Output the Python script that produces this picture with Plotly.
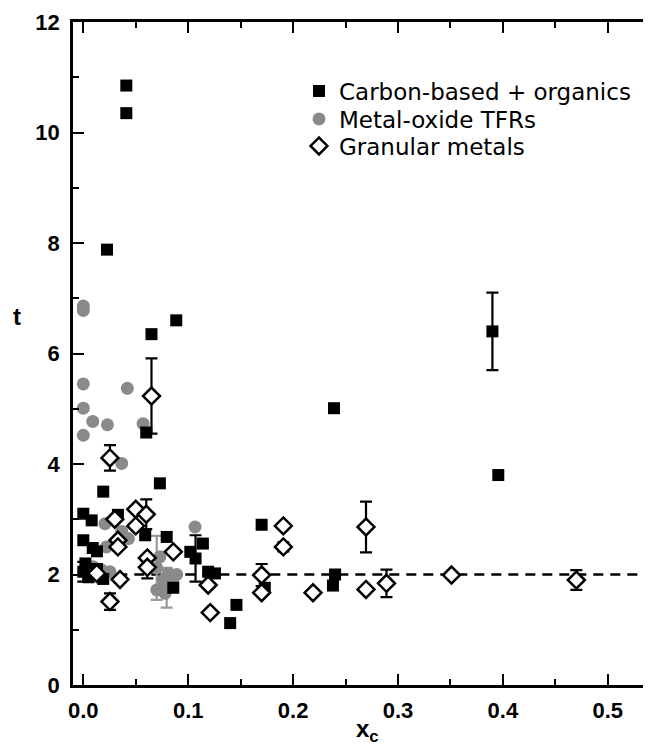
import plotly.graph_objects as go

# ---------------- data ----------------
carbon_x = [0.041, 0.041, 0.0226, 0.0886, 0.065, 0.060, 0.073, 0.019, 0.000, 0.008,
            0.033, 0.000, 0.009, 0.013, 0.002, 0.000, 0.013, 0.005, 0.019, 0.059,
            0.0795, 0.102, 0.114, 0.107, 0.119, 0.1255, 0.0858, 0.146, 0.140, 0.170,
            0.173, 0.240, 0.238, 0.239, 0.390, 0.3956]
carbon_y = [10.85, 10.35, 7.88, 6.60, 6.35, 4.57, 3.65, 3.50, 3.10, 2.98,
            3.08, 2.62, 2.48, 2.42, 2.20, 2.05, 2.10, 1.95, 1.92, 2.71,
            2.68, 2.41, 2.56, 2.29, 2.05, 2.02, 1.76, 1.45, 1.12, 2.90,
            1.76, 2.00, 1.80, 5.01, 6.40, 3.80]
carbon_err = [0, 0, 0, 0, 0, 0, 0, 0, 0, 0,
              0, 0, 0, 0, 0, 0.18, 0, 0, 0, 0,
              0, 0, 0, 0.42, 0, 0, 0, 0, 0, 0,
              0, 0, 0, 0, 0.70, 0]

oxide_x = [0.000, 0.000, 0.000, 0.042, 0.000, 0.009, 0.023, 0.057, 0.000, 0.0366,
           0.0207, 0.0366, 0.043, 0.022, 0.0175, 0.0095, 0.0255, 0.1065, 0.073, 0.070,
           0.076, 0.081, 0.089, 0.070, 0.078, 0.0795, 0.085]
oxide_y = [6.86, 6.78, 5.45, 5.37, 5.01, 4.77, 4.71, 4.73, 4.52, 4.01,
           2.92, 2.78, 2.65, 2.50, 2.08, 2.14, 2.05, 2.86, 2.32, 2.12,
           1.90, 2.02, 2.00, 1.72, 1.66, 1.76, 1.88]
oxide_err = [0, 0, 0, 0, 0, 0, 0, 0, 0, 0,
             0, 0, 0, 0, 0, 0, 0, 0, 0, 0.58,
             0, 0, 0, 0, 0, 0.36, 0]

granular_x = [0.065, 0.0254, 0.030, 0.050, 0.050, 0.060, 0.033, 0.033, 0.061, 0.061,
              0.0858, 0.035, 0.0254, 0.0128, 0.119, 0.121, 0.170, 0.170, 0.1907, 0.1907,
              0.219, 0.2695, 0.2695, 0.289, 0.351, 0.470]
granular_y = [5.23, 4.11, 3.00, 3.18, 2.88, 3.09, 2.62, 2.50, 2.30, 2.13,
              2.41, 1.91, 1.51, 2.02, 1.81, 1.31, 1.99, 1.67, 2.88, 2.50,
              1.67, 2.86, 1.73, 1.84, 1.99, 1.90]
granular_err = [0.68, 0.23, 0, 0, 0, 0.27, 0, 0, 0, 0.20,
                0, 0, 0.15, 0, 0, 0, 0.20, 0, 0, 0.08,
                0, 0.46, 0, 0.25, 0, 0.18]

ref_x = [0.0, 0.55]
ref_y = [2.0, 2.0]

series_names = ["Carbon-based + organics", "Metal-oxide TFRs", "Granular metals"]
x_ticks = [0.0, 0.1, 0.2, 0.3, 0.4, 0.5]
x_ticklabels = ["0.0", "0.1", "0.2", "0.3", "0.4", "0.5"]
y_ticks = [0, 2, 4, 6, 8, 10, 12]

# ---------------- figure ----------------
# the page body has an 8px default margin, so the figure is 8px smaller
W, H = 643, 739
L, R, T, B = 65, 0, 14, 62
PW, PH = W - L - R, H - T - B
x0_px = 83.3 - 8          # pixel of x = 0 inside the figure
px_per_unit_x = 1049.0
xmin = (L - x0_px) / px_per_unit_x
xmax = (W - R - x0_px) / px_per_unit_x


def px2paper_x(px):
    return (px - L) / PW


def px2paper_y(py):
    return (T + PH - py) / PH


fig = go.Figure()

fig.add_trace(go.Scatter(x=ref_x, y=ref_y, mode="lines", showlegend=False,
                         line=dict(color="black", width=2.5, dash="10px,7px"),
                         hoverinfo="skip"))


def err_trace(xs, ys, es, color):
    idx = [i for i, e in enumerate(es) if e > 0]
    return go.Scatter(
        x=[xs[i] for i in idx], y=[ys[i] for i in idx], mode="markers",
        marker=dict(size=1, opacity=0), showlegend=False, hoverinfo="skip",
        error_y=dict(type="data", array=[es[i] for i in idx], visible=True,
                     color=color, thickness=2.2, width=6))


fig.add_trace(err_trace(oxide_x, oxide_y, oxide_err, "#9a9a9a"))
fig.add_trace(go.Scatter(x=oxide_x, y=oxide_y, mode="markers", name=series_names[1],
                         legend="legend2",
                         marker=dict(symbol="circle", size=13, color="#8a8a8a",
                                     line=dict(width=0))))
fig.add_trace(err_trace(carbon_x, carbon_y, carbon_err, "black"))
fig.add_trace(go.Scatter(x=carbon_x, y=carbon_y, mode="markers", name=series_names[0],
                         legend="legend",
                         marker=dict(symbol="square", size=12, color="black",
                                     line=dict(width=0))))
fig.add_trace(err_trace(granular_x, granular_y, granular_err, "black"))
fig.add_trace(go.Scatter(x=granular_x, y=granular_y, mode="markers", name=series_names[2],
                         legend="legend3",
                         marker=dict(symbol="diamond", size=13, color="white",
                                     line=dict(width=2.5, color="black"))))

tickfont = dict(family="Liberation Sans, Arial, sans-serif", size=22, color="black",
                weight="bold")
legfont = dict(family="DejaVu Sans, sans-serif", size=23, color="black")
leg_left = px2paper_x(299 - 8)


def leg(row_center_px):
    return dict(x=leg_left, y=px2paper_y(row_center_px - 8), xanchor="left",
                yanchor="middle", bgcolor="rgba(0,0,0,0)", borderwidth=0,
                font=legfont, itemwidth=30)


fig.update_layout(
    width=W, height=H,
    margin=dict(l=L, r=R, t=T, b=B, pad=0),
    paper_bgcolor="white", plot_bgcolor="white",
    showlegend=True,
    legend=leg(91), legend2=leg(119), legend3=leg(146),
    xaxis=dict(range=[xmin, xmax], showgrid=False, zeroline=False,
               showline=True, linecolor="black", linewidth=2.5, mirror="ticks",
               ticks="inside", ticklen=11, tickwidth=2, tickcolor="black",
               tickvals=x_ticks, ticktext=x_ticklabels, tickfont=tickfont,
               ticklabelstandoff=4,
               minor=dict(ticks="inside", ticklen=6, tickwidth=2, tickcolor="black",
                          dtick=0.05, tick0=0, showgrid=False)),
    yaxis=dict(range=[0, 12], showgrid=False, zeroline=False,
               showline=True, linecolor="black", linewidth=2.5, mirror=False,
               ticks="inside", ticklen=11, tickwidth=2, tickcolor="black",
               tickvals=y_ticks, tickfont=tickfont, ticklabelstandoff=6,
               minor=dict(ticks="inside", ticklen=6, tickwidth=2, tickcolor="black",
                          dtick=1, tick0=0, showgrid=False)),
    annotations=[
        dict(text="<b>t</b>", xref="paper", yref="paper",
             x=px2paper_x(17 - 8), y=px2paper_y(316 - 8),
             showarrow=False, xanchor="center", yanchor="middle",
             font=dict(family="Liberation Sans, Arial, sans-serif", size=24, color="black")),
        dict(text="<b>x<sub>c</sub></b>", xref="paper", yref="paper",
             x=px2paper_x(367 - 8), y=px2paper_y(730 - 8),
             showarrow=False, xanchor="center", yanchor="middle",
             font=dict(family="Liberation Sans, Arial, sans-serif", size=24, color="black")),
    ],
)

fig.write_html("out.html")
